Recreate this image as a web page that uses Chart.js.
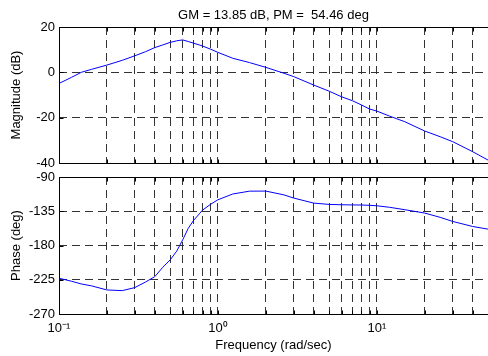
<!DOCTYPE html>
<html>
<head>
<meta charset="utf-8">
<script src="https://cdn.jsdelivr.net/npm/chart.js@4.4.1/dist/chart.umd.min.js"></script>
<style>
  html, body { margin: 0; padding: 0; background: #fff; }
  #wrap { position: relative; width: 488px; height: 356px; overflow: hidden; }
  .pane { position: absolute; left: 0; width: 488px; }
  canvas { display: block; }
</style>
</head>
<body>
<div id="wrap">
  <div class="pane" style="top:0;height:170px"><canvas id="mag" width="488" height="170"></canvas></div>
  <div class="pane" style="top:170px;height:186px"><canvas id="phase" width="488" height="186"></canvas></div>
</div>
<script>
// frequency points (rad/sec)
const freq = [0.1, 0.12, 0.138, 0.16, 0.2, 0.25, 0.3, 0.35, 0.4, 0.45, 0.5, 0.55, 0.6, 0.65, 0.7, 0.77, 0.8, 0.9,
  1, 1.24, 1.58, 2, 2.6, 3, 4, 5, 6, 7, 8, 9, 10, 12, 15, 20, 25, 30, 40, 50];
// magnitude in dB
const magnitude = [-4.9, -2.2, 0, 1.3, 3.2, 5.3, 7.3, 9.1, 10.9, 12.1, 13.2, 13.9, 14.3, 13.6, 12.9, 12.0, 11.6, 10.2,
  8.8, 6.2, 4.3, 2.2, -0.4, -1.9, -5.6, -8.3, -10.8, -12.5, -14.4, -16.2, -17.1, -19.3, -21.8, -25.9, -28.4, -30.6, -35, -38.7];
// phase in degrees
const phase = [-223, -227, -230.5, -233, -238.4, -239.3, -235.3, -228, -221, -208.6, -199, -187.5, -172.6, -157.5, -147.5, -137.5, -133.5, -125.8,
  -119.9, -112.3, -108.6, -108.5, -113.5, -117.7, -124.3, -126, -126.5, -126.7, -126.8, -127.2, -127.8, -129.8, -133, -137.4, -143, -148.4, -155, -158.5];

const freqGrid = [0.1, 0.2, 0.3, 0.4, 0.5, 0.6, 0.7, 0.8, 0.9, 1, 2, 3, 4, 5, 6, 7, 8, 9, 10, 20, 30, 40, 50];
const decadeLabels = { 0.1: '10\u207B\u00B9', 1: '10\u2070', 10: '10\u00B9' };
const magTicks = [-40, -20, 0, 20];
const phaseTicks = [-270, -225, -180, -135, -90];
const titleText = 'GM = 13.85 dB, PM =  54.46 deg';

Chart.defaults.font.family = '"Liberation Sans", Arial, sans-serif';
Chart.defaults.font.size = 13;
Chart.defaults.color = '#000';

const DASH = [8, 5];
const GRID = '#333';

// solid axes box + small inward ticks, like matlab
const boxPlugin = {
  id: 'box',
  afterDraw(chart) {
    const { ctx, chartArea: a, scales } = chart;
    const l = Math.round(a.left) + 0.5, t = Math.round(a.top) + 0.5;
    const b = Math.round(a.bottom) + 0.5, r = Math.round(a.right) + 0.5;
    ctx.save();
    ctx.strokeStyle = '#000';
    ctx.lineWidth = 1;
    ctx.beginPath();
    ctx.moveTo(r, t); ctx.lineTo(l, t); ctx.lineTo(l, b); ctx.lineTo(r, b);
    scales.x.ticks.forEach(tk => {
      const x = Math.round(scales.x.getPixelForValue(tk.value)) + 0.5;
      ctx.moveTo(x, t); ctx.lineTo(x, t + 4);
      ctx.moveTo(x, b); ctx.lineTo(x, b - 4);
    });
    scales.y.ticks.forEach(tk => {
      const y = Math.round(scales.y.getPixelForValue(tk.value)) + 0.5;
      ctx.moveTo(l, y); ctx.lineTo(l + 4, y);
    });
    ctx.stroke();
    ctx.restore();
  }
};

const titlePlugin = {
  id: 'bodeTitle',
  afterDraw(chart) {
    const { ctx, chartArea: a } = chart;
    ctx.save();
    ctx.font = '13px "Liberation Sans", Arial, sans-serif';
    ctx.fillStyle = '#000';
    ctx.textAlign = 'center';
    ctx.textBaseline = 'alphabetic';
    ctx.fillText(titleText, (a.left + a.right) / 2, 19);
    ctx.restore();
  }
};

function freqAxis(showLabels, height) {
  return {
    type: 'logarithmic',
    min: 0.1,
    max: 50,
    afterBuildTicks: s => { s.ticks = freqGrid.map(v => ({ value: v })); },
    afterFit: s => { s.height = height; s.paddingLeft = 0; s.paddingRight = 0; },
    ticks: {
      display: showLabels,
      autoSkip: false,
      maxRotation: 0,
      padding: 7,
      callback: v => decadeLabels[v] || ''
    },
    grid: { color: GRID, lineWidth: 1, drawTicks: false },
    border: { display: false, dash: DASH },
    title: {
      display: showLabels,
      text: 'Frequency (rad/sec)',
      padding: { top: 0, bottom: 3 }
    }
  };
}

function valueAxis(min, max, ticks, label) {
  return {
    min: min,
    max: max,
    afterBuildTicks: s => { s.ticks = ticks.map(v => ({ value: v })); },
    // fixed width, and no extra room for the end labels (layout padding handles it)
    afterFit: s => { s.width = 59; s.paddingTop = 0; s.paddingBottom = 0; },
    ticks: { padding: 4 },
    grid: { color: GRID, lineWidth: 1, drawTicks: false },
    border: { display: false, dash: DASH },
    title: { display: true, text: label, padding: { top: 9, bottom: 0 } }
  };
}

function bodeChart(id, values, yAxis, xAxis, padding, plugins) {
  return new Chart(document.getElementById(id), {
    type: 'line',
    data: {
      datasets: [{
        data: freq.map((f, i) => ({ x: f, y: values[i] })),
        borderColor: '#0000ff',
        borderWidth: 1,
        pointRadius: 0,
        tension: 0,
        fill: false
      }]
    },
    options: {
      responsive: false,
      animation: false,
      layout: { padding: padding },
      plugins: { legend: { display: false }, tooltip: { enabled: false } },
      scales: { x: xAxis, y: yAxis }
    },
    plugins: plugins
  });
}

bodeChart('mag', magnitude, valueAxis(-40, 20, magTicks, 'Magnitude (dB)'), freqAxis(false, 0),
  { top: 27, bottom: 7, left: 0, right: 0 }, [boxPlugin, titlePlugin]);
bodeChart('phase', phase, valueAxis(-270, -90, phaseTicks, 'Phase (deg)'), freqAxis(true, 42),
  { top: 7, bottom: 0, left: 0, right: 0 }, [boxPlugin]);
</script>
</body>
</html>
